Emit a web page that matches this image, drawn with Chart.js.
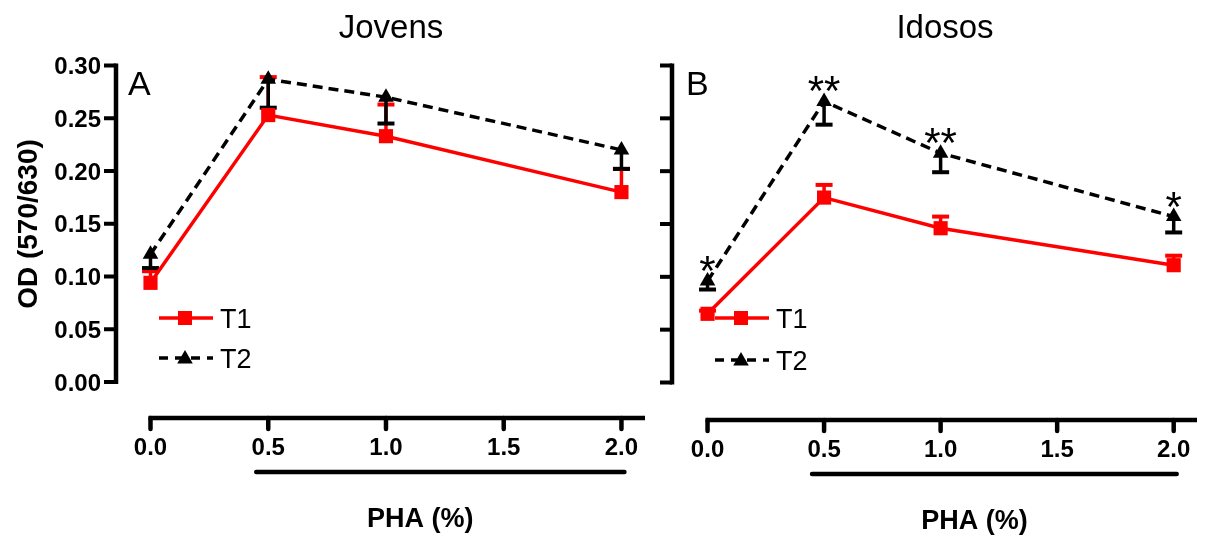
<!DOCTYPE html>
<html>
<head>
<meta charset="utf-8">
<script src="https://cdn.jsdelivr.net/npm/chart.js@4.4.1/dist/chart.umd.min.js"></script>
<style>
html,body{margin:0;padding:0;background:#fff;}
#wrap{position:relative;width:1207px;height:537px;overflow:hidden;background:#fff;}
canvas{position:absolute;left:0;top:0;}
</style>
</head>
<body>
<div id="wrap">
<canvas id="cA" width="1207" height="537"></canvas>
<canvas id="cB" width="1207" height="537"></canvas>
</div>
<script>
// ---------------- data ----------------
const phaLevels = [0.0, 0.5, 1.0, 2.0];
const xTickValues = [0.0, 0.5, 1.0, 1.5, 2.0];
const xTickLabels = ['0.0', '0.5', '1.0', '1.5', '2.0'];
const yTickValues = [0.00, 0.05, 0.10, 0.15, 0.20, 0.25, 0.30];
const yTickLabels = ['0.00', '0.05', '0.10', '0.15', '0.20', '0.25', '0.30'];
const seriesNames = ['T1', 'T2'];
const panelTitles = ['Jovens', 'Idosos'];
const panelLetters = ['A', 'B'];
const xAxisTitle = 'PHA (%)';
const yAxisTitle = 'OD (570/630)';

const jovensT1 = [0.094, 0.253, 0.233, 0.180];
const jovensT1Err = [0.011, 0.036, 0.030, 0.022];
const jovensT2 = [0.121, 0.287, 0.270, 0.220];
const jovensT2Err = [0.013, 0.027, 0.025, 0.018];

const idososT1 = [0.065, 0.175, 0.146, 0.111];
const idososT1Err = [0.003, 0.012, 0.011, 0.009];
const idososT2 = [0.096, 0.266, 0.217, 0.157];
const idososT2Err = [0.008, 0.022, 0.018, 0.015];
const idososSignif = ['*', '**', '**', '*'];

// ---------------- styles ----------------
const RED = '#ff0000';
const BLACK = '#000000';
const FONT = '"Liberation Sans", Arial, Helvetica, sans-serif';

function toPoints(vals){ return phaLevels.map((x,i)=>({x:x, y:vals[i]})); }

function makeDatasets(t1, t2){
  return [
    {label: seriesNames[0], data: toPoints(t1), borderColor: RED, backgroundColor: RED,
     borderWidth: 3.5, pointStyle: 'rect', pointRadius: 10, pointBackgroundColor: RED,
     pointBorderColor: RED, pointBorderWidth: 0, tension: 0, order: 1, clip: false},
    {label: seriesNames[1], data: toPoints(t2), borderColor: BLACK, backgroundColor: BLACK,
     borderWidth: 3.5, borderDash: [10, 6], pointStyle: 'triangle', pointRadius: 9,
     pointBackgroundColor: BLACK, pointBorderColor: BLACK, pointBorderWidth: 0,
     tension: 0, order: 0, clip: false}
  ];
}

function drawSquare(ctx, x, y, s, color){
  ctx.fillStyle = color; ctx.fillRect(x - s/2, y - s/2, s, s);
}
function drawTriangle(ctx, x, y, r, color){
  ctx.fillStyle = color; ctx.beginPath();
  ctx.moveTo(x, y - r);
  ctx.lineTo(x + 0.866*r, y + 0.5*r);
  ctx.lineTo(x - 0.866*r, y + 0.5*r);
  ctx.closePath(); ctx.fill();
}

function makePanelPlugin(cfg){
  return {
    id: 'panel' + cfg.letter,
    beforeDatasetsDraw(chart){
      const ctx = chart.ctx, xs = chart.scales.x, ys = chart.scales.y;
      const ax = chart.chartArea.left;
      ctx.save();
      ctx.strokeStyle = BLACK; ctx.fillStyle = BLACK;
      // y axis
      const yTop = ys.getPixelForValue(yTickValues[yTickValues.length-1]);
      const yBot = ys.getPixelForValue(yTickValues[0]);
      ctx.lineWidth = 4.5; ctx.lineCap = 'butt';
      ctx.beginPath(); ctx.moveTo(ax, yTop - 2); ctx.lineTo(ax, yBot + 2); ctx.stroke();
      ctx.font = 'bold 24px ' + FONT;
      ctx.textAlign = 'right'; ctx.textBaseline = 'alphabetic';
      ctx.lineWidth = 4;
      yTickValues.forEach((v, i) => {
        const y = ys.getPixelForValue(v);
        ctx.beginPath(); ctx.moveTo(ax - 12, y); ctx.lineTo(ax, y); ctx.stroke();
        if (cfg.yLabels) ctx.fillText(yTickLabels[i], ax - 15, y + 8.5);
      });
      // x axis
      const xy = yBot + cfg.xGap;
      const x0 = xs.getPixelForValue(xTickValues[0]);
      ctx.lineWidth = 4.5;
      ctx.beginPath(); ctx.moveTo(x0 - 2, xy); ctx.lineTo(chart.chartArea.right, xy); ctx.stroke();
      ctx.textAlign = 'center';
      ctx.lineCap = 'round';
      xTickValues.forEach((v, i) => {
        const x = xs.getPixelForValue(v);
        ctx.beginPath(); ctx.moveTo(x, xy); ctx.lineTo(x, xy + 11); ctx.stroke();
        ctx.fillText(xTickLabels[i], x, xy + 37);
      });
      // underline bar
      const u0 = xs.getPixelForValue(0.5) - 12, u1 = xs.getPixelForValue(2.0) + 3;
      ctx.lineWidth = 4.5;
      ctx.beginPath(); ctx.moveTo(u0, xy + 54); ctx.lineTo(u1, xy + 54); ctx.stroke();
      // x axis title
      ctx.font = 'bold 27px ' + FONT;
      ctx.fillText(xAxisTitle, (u0 + u1)/2 - 20, xy + 109);
      // error bars
      ctx.lineCap = 'butt';
      cfg.errors.forEach((errs, di) => {
        const ds = chart.data.datasets[di];
        const dir = di === 0 ? 1 : -1;
        ctx.strokeStyle = ds.borderColor;
        ds.data.forEach((p, i) => {
          const x = xs.getPixelForValue(p.x);
          const y0 = ys.getPixelForValue(p.y);
          const y1 = ys.getPixelForValue(p.y + dir * errs[i]);
          ctx.lineWidth = 3.5;
          ctx.beginPath(); ctx.moveTo(x, y0); ctx.lineTo(x, y1); ctx.stroke();
          ctx.lineWidth = 4;
          ctx.beginPath(); ctx.moveTo(x - 8.5, y1); ctx.lineTo(x + 8.5, y1); ctx.stroke();
        });
      });
      ctx.restore();
    },
    afterDraw(chart){
      const ctx = chart.ctx, xs = chart.scales.x, ys = chart.scales.y;
      ctx.save();
      ctx.fillStyle = BLACK;
      // panel title
      ctx.font = '33px ' + FONT; ctx.textAlign = 'center'; ctx.textBaseline = 'alphabetic';
      ctx.fillText(cfg.title, cfg.titleX, 38);
      // panel letter
      ctx.font = '34px ' + FONT; ctx.textAlign = 'left';
      ctx.fillText(cfg.letter, cfg.letterX, 95);
      // y axis title
      if (cfg.yTitle){
        ctx.save();
        ctx.translate(37, 224); ctx.rotate(-Math.PI/2);
        ctx.font = 'bold 28px ' + FONT; ctx.textAlign = 'center';
        ctx.fillText(yAxisTitle, 0, 0);
        ctx.restore();
      }
      // significance marks
      if (cfg.signif){
        const ds = chart.data.datasets[1];
        ctx.font = '42px ' + FONT; ctx.textAlign = 'center';
        ds.data.forEach((p, i) => {
          ctx.fillText(cfg.signif[i], xs.getPixelForValue(p.x), ys.getPixelForValue(p.y) + 4);
        });
      }
      // legend
      const L = cfg.legend;
      ctx.lineWidth = 3.5;
      ctx.strokeStyle = RED;
      ctx.beginPath(); ctx.moveTo(L.x0, L.y1); ctx.lineTo(L.x1, L.y1); ctx.stroke();
      drawSquare(ctx, L.mx, L.y1, 14, RED);
      ctx.strokeStyle = BLACK; ctx.setLineDash([9, 7]);
      ctx.beginPath(); ctx.moveTo(L.x0, L.y2); ctx.lineTo(L.x1, L.y2); ctx.stroke();
      ctx.setLineDash([]);
      drawTriangle(ctx, L.mx, L.y2 + 1, 9, BLACK);
      ctx.fillStyle = BLACK; ctx.font = '27px ' + FONT; ctx.textAlign = 'left';
      ctx.fillText(seriesNames[0], L.tx, L.y1 + 10);
      ctx.fillText(seriesNames[1], L.tx, L.y2 + 10);
      ctx.restore();
    }
  };
}

function makeChart(id, t1, t2, cfg, padding, xmin, xmax){
  return new Chart(document.getElementById(id), {
    type: 'line',
    data: { datasets: makeDatasets(t1, t2) },
    options: {
      responsive: false, animation: false, devicePixelRatio: 1,
      layout: { padding: padding },
      scales: {
        x: { type: 'linear', min: xmin, max: xmax, display: false },
        y: { type: 'linear', min: 0, max: 0.30, display: false }
      },
      plugins: { legend: { display: false }, tooltip: { enabled: false }, title: { display: false } }
    },
    plugins: [makePanelPlugin(cfg)]
  });
}

makeChart('cA', jovensT1, jovensT2, {
  letter: panelLetters[0], title: panelTitles[0], titleX: 391, letterX: 128,
  yLabels: true, yTitle: true, xGap: 36,
  errors: [jovensT1Err, jovensT2Err],
  legend: { x0: 159, x1: 213, mx: 185, y1: 318, y2: 358, tx: 220 }
}, { left: 116, right: 1207 - 645, top: 65.5, bottom: 537 - 382 }, -0.1465, 2.1);

makeChart('cB', idososT1, idososT2, {
  letter: panelLetters[1], title: panelTitles[1], titleX: 945, letterX: 686,
  yLabels: false, yTitle: false, xGap: 37.5, signif: idososSignif,
  errors: [idososT1Err, idososT2Err],
  legend: { x0: 715, x1: 769, mx: 741, y1: 318, y2: 360, tx: 776 }
}, { left: 672, right: 1207 - 1204, top: 65.5, bottom: 537 - 382.5 }, -0.1525, 2.1);
</script>
</body>
</html>
